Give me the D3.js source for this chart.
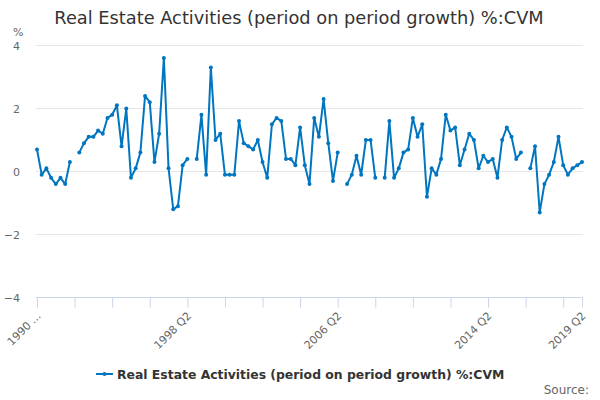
<!DOCTYPE html>
<html>
<head>
<meta charset="utf-8">
<script src="https://cdn.jsdelivr.net/npm/d3@7"></script>
<style>
  html, body { margin: 0; padding: 0; background: #fff; }
  svg { display: block; font-family: "DejaVu Sans", sans-serif; }
</style>
</head>
<body>
<svg id="chart" width="600" height="400"></svg>
<script>
// ---- data ----
const startYear = 1990;
const startQuarter = 2;
const values = [
  0.7, -0.1, 0.1, -0.2, -0.4, -0.2, -0.4, 0.3, null, 0.6,
  0.9, 1.1, 1.1, 1.3, 1.2, 1.7, 1.8, 2.1, 0.8, 2.0,
  -0.2, 0.1, 0.6, 2.4, 2.2, 0.3, 1.2, 3.6, 0.1, -1.2,
  -1.1, 0.2, 0.4, null, 0.4, 1.8, -0.1, 3.3, 1.0, 1.2,
  -0.1, -0.1, -0.1, 1.6, 0.9, 0.8, 0.7, 1.0, 0.3, -0.2,
  1.5, 1.7, 1.6, 0.4, 0.4, 0.2, 1.4, 0.2, -0.4, 1.7,
  1.1, 2.3, 0.9, -0.3, 0.6, null, -0.4, -0.1, 0.5, -0.1,
  1.0, 1.0, -0.2, null, -0.2, 1.6, -0.2, 0.1, 0.6, 0.7,
  1.7, 1.1, 1.5, -0.8, 0.1, -0.1, 0.4, 1.8, 1.3, 1.4,
  0.2, 0.7, 1.2, 1.0, 0.1, 0.5, 0.3, 0.4, -0.2, 1.0,
  1.4, 1.1, 0.4, 0.6, null, 0.1, 0.8, -1.3, -0.4, -0.1,
  0.3, 1.1, 0.2, -0.1, 0.1, 0.2, 0.3
];
const categories = values.map((v, i) => {
  const q = startQuarter - 1 + i;
  return (startYear + Math.floor(q / 4)) + " Q" + (q % 4 + 1);
});
const yTicks = [-4, -2, 0, 2, 4];
const xTickEvery = 8;
const xLabelShown = ["1990 ...", "1998 Q2", "2006 Q2", "2014 Q2", "2019 Q2"];
const seriesName = "Real Estate Activities (period on period growth) %:CVM";
const titleText = "Real Estate Activities (period on period growth) %:CVM";

// ---- layout ----
const svg = d3.select("#chart");
const color = "#0076c0";
const plotLeft = 36, plotRight = 583, plotTop = 45.5, plotBottom = 297.5;

const x = d3.scaleLinear().domain([0, values.length - 1]).range([37, 582]);
const y = d3.scaleLinear().domain([-4, 4]).range([plotBottom, plotTop]);

// title
svg.append("text")
  .attr("x", 299).attr("y", 24)
  .attr("text-anchor", "middle")
  .attr("font-size", 17.8)
  .attr("fill", "#333")
  .text(titleText);

// y unit
svg.append("text")
  .attr("x", 13).attr("y", 36)
  .attr("font-size", 11)
  .attr("fill", "#666")
  .text("%");

// gridlines
svg.append("g").selectAll("line").data(yTicks.filter(t => t !== -4)).join("line")
  .attr("x1", plotLeft).attr("x2", plotRight)
  .attr("y1", d => y(d)).attr("y2", d => y(d))
  .attr("stroke", "#e6e6e6").attr("stroke-width", 1);

// y axis labels
const yAxis = d3.axisLeft(y).tickValues(yTicks).tickSize(0).tickPadding(0);
const gy = svg.append("g").attr("transform", "translate(20,0)").call(yAxis);
gy.select(".domain").remove();
gy.selectAll("text").attr("font-size", 11).attr("fill", "#666")
  .attr("font-family", "DejaVu Sans, sans-serif");

// x axis
const tickIdx = d3.range(0, values.length, xTickEvery);
if (tickIdx[tickIdx.length - 1] !== values.length - 1) tickIdx.push(values.length - 1);
const labelMap = {0: xLabelShown[0], 32: xLabelShown[1], 64: xLabelShown[2], 96: xLabelShown[3], 116: xLabelShown[4]};
const xAxis = d3.axisBottom(x).tickValues(tickIdx).tickSize(10).tickSizeOuter(0)
  .tickFormat(d => labelMap[d] !== undefined ? labelMap[d] : "");
const gx = svg.append("g").attr("transform", `translate(0,${plotBottom})`).call(xAxis);
gx.select(".domain").attr("d", `M${plotLeft},0H${plotRight}`).attr("stroke", "#ccd6eb");
gx.selectAll(".tick line").attr("stroke", "#ccd6eb");
gx.selectAll(".tick text")
  .attr("font-size", 11).attr("fill", "#666")
  .attr("font-family", "DejaVu Sans, sans-serif")
  .attr("text-anchor", "end")
  .attr("dy", null).attr("y", 0)
  .attr("transform", "translate(4,19) rotate(-45)");

// line
const line = d3.line()
  .defined(d => d !== null)
  .x((d, i) => x(i))
  .y(d => y(d));
svg.append("path")
  .datum(values)
  .attr("d", line)
  .attr("fill", "none")
  .attr("stroke", color)
  .attr("stroke-width", 2)
  .attr("stroke-linejoin", "round");

svg.append("g").selectAll("circle")
  .data(values.map((v, i) => ({v, i})).filter(d => d.v !== null))
  .join("circle")
  .attr("cx", d => x(d.i)).attr("cy", d => y(d.v))
  .attr("r", 2).attr("fill", color);

// legend
const lg = svg.append("g");
lg.append("line").attr("x1", 96).attr("x2", 113).attr("y1", 374).attr("y2", 374)
  .attr("stroke", color).attr("stroke-width", 2);
lg.append("circle").attr("cx", 104.5).attr("cy", 374).attr("r", 2).attr("fill", color);
lg.append("text").attr("x", 117).attr("y", 378.5)
  .attr("font-size", 12.4).attr("font-weight", "bold").attr("fill", "#333")
  .text(seriesName);

// source
svg.append("text").attr("x", 589).attr("y", 394)
  .attr("text-anchor", "end").attr("font-size", 12).attr("fill", "#666")
  .text("Source:");
</script>
</body>
</html>
